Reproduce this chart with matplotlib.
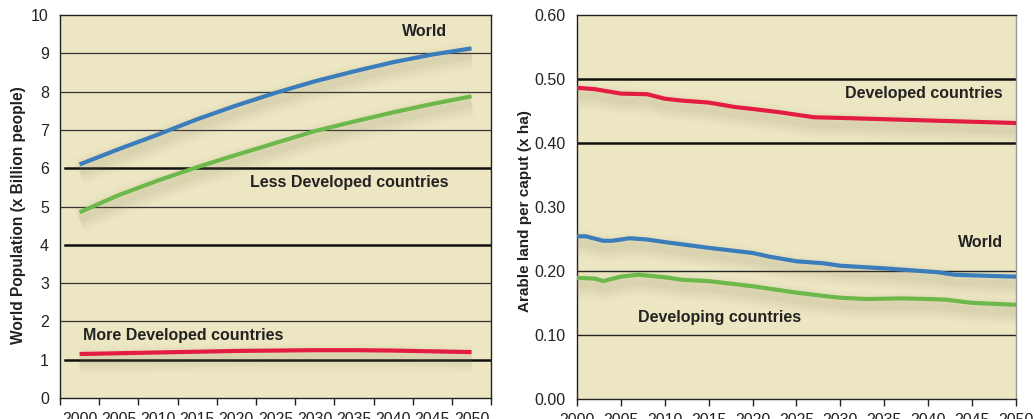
import matplotlib.pyplot as plt
import matplotlib.patheffects as pe

# left panel: population (billions)
pop_years = [2000, 2005, 2010, 2015, 2020, 2025, 2030, 2035, 2040, 2045, 2050]
pop_world = [6.10, 6.50, 6.88, 7.28, 7.64, 7.97, 8.27, 8.53, 8.77, 8.97, 9.13]
pop_less = [4.85, 5.30, 5.68, 6.03, 6.35, 6.66, 6.97, 7.22, 7.46, 7.68, 7.88]
pop_more = [1.15, 1.17, 1.19, 1.21, 1.23, 1.24, 1.25, 1.25, 1.24, 1.22, 1.20]

# right panel: arable land per caput (ha)
dev_years = [2000, 2002, 2005, 2008, 2010, 2012, 2015, 2018, 2020, 2023, 2025, 2027,
             2030, 2035, 2040, 2045, 2050]
dev_land = [0.486, 0.484, 0.477, 0.476, 0.469, 0.466, 0.463, 0.456, 0.453, 0.448, 0.444,
            0.440, 0.439, 0.437, 0.435, 0.433, 0.431]
wld_years = [2000, 2001, 2003, 2004, 2006, 2008, 2010, 2015, 2020, 2022, 2025, 2028,
             2030, 2035, 2040, 2041, 2043, 2045, 2050]
wld_land = [0.254, 0.254, 0.247, 0.247, 0.251, 0.249, 0.245, 0.236, 0.228, 0.222, 0.215,
            0.212, 0.208, 0.204, 0.199, 0.198, 0.194, 0.193, 0.191]
dvg_years = [2000, 2002, 2003, 2005, 2007, 2010, 2012, 2015, 2020, 2025, 2028, 2030,
             2033, 2037, 2040, 2042, 2045, 2050]
dvg_land = [0.189, 0.188, 0.184, 0.191, 0.194, 0.190, 0.186, 0.184, 0.176, 0.166, 0.161,
            0.158, 0.156, 0.157, 0.156, 0.155, 0.150, 0.147]

bg = '#ede6c2'
blue = '#3b7dba'
green = '#6cb84b'
red = '#e31c42'
dark = '#222222'

plt.rcParams['font.family'] = ['Liberation Sans', 'DejaVu Sans']

# soft blurred drop shadow under each curve
shadow = [pe.SimpleLineShadow(offset=(0, -5), shadow_color='#8a8060', alpha=a, linewidth=w)
          for w, a in ((20, 0.025), (16, 0.03), (12, 0.035), (8, 0.04), (5, 0.04))]
shadow.append(pe.Normal())

fig = plt.figure(figsize=(10.34, 4.19), dpi=100)
ax1 = fig.add_axes([0.058, 0.050, 0.417, 0.914])
ax2 = fig.add_axes([0.558, 0.048, 0.4246, 0.9165])

for ax in (ax1, ax2):
    ax.set_facecolor(bg)
    for s in ax.spines.values():
        s.set_color(dark)
        s.set_linewidth(1.0)
    ax.tick_params(axis='both', labelsize=11.5, colors=dark, width=1.0)
    ax.tick_params(axis='y', length=0, pad=8)
    ax.tick_params(axis='x', direction='out', length=5, pad=5)

# left panel
ax1.set_xlim(1997.5, 2052.5)
ax1.set_ylim(0, 10)
ax1.set_yticks(range(0, 11))
ax1.set_xticks([1997.5 + 5 * i for i in range(12)])
ax1.set_xticklabels([])
ax1.set_xticks(pop_years, minor=True)
ax1.set_xticklabels([str(y) for y in pop_years], minor=True)
ax1.tick_params(axis='x', which='minor', length=0, labelsize=11.5, colors=dark, pad=10)
for v in range(1, 10):
    thick = v in (1, 4, 6)
    ax1.axhline(v, xmin=0.012 if thick else 0, color='#111111' if thick else '#333333',
                lw=1.8 if thick else 0.9, zorder=1)

ax1.plot(pop_years, pop_world, color=blue, lw=3, solid_capstyle='butt', path_effects=shadow, zorder=3)
ax1.plot(pop_years, pop_less, color=green, lw=3, solid_capstyle='butt', path_effects=shadow, zorder=3)
ax1.plot(pop_years, pop_more, color=red, lw=3, solid_capstyle='butt', path_effects=shadow, zorder=3)

ax1.text(2044, 9.56, 'World', fontsize=11.5, fontweight='bold', color=dark, ha='center', va='center')
ax1.text(2034.4, 5.64, 'Less Developed countries', fontsize=11.5, fontweight='bold', color=dark,
         ha='center', va='center')
ax1.text(2000.5, 1.64, 'More Developed countries', fontsize=11.5, fontweight='bold', color=dark,
         ha='left', va='center')
ax1.set_ylabel('World Population (x Billion people)', fontsize=11.2, fontweight='bold', color=dark)
ax1.yaxis.set_label_coords(-0.079, 0.478)

# right panel
ax2.set_xlim(2000, 2050)
ax2.set_ylim(0, 0.6)
ax2.set_yticks([0, 0.1, 0.2, 0.3, 0.4, 0.5, 0.6])
ax2.set_yticklabels(['0.00', '0.10', '0.20', '0.30', '0.40', '0.50', '0.60'])
ax2.set_xticks(pop_years)
ax2.set_xticklabels([str(y) for y in pop_years])
ax2.spines['right'].set_color('#999999')
for v, thick in ((0.5, True), (0.4, True), (0.2, False), (0.1, False)):
    ax2.axhline(v, color='#111111' if thick else '#222222', lw=1.8 if thick else 1.0, zorder=1)

ax2.plot(dev_years, dev_land, color=red, lw=3, path_effects=shadow, zorder=3)
ax2.plot(wld_years, wld_land, color=blue, lw=3, path_effects=shadow, zorder=3)
ax2.plot(dvg_years, dvg_land, color=green, lw=3, path_effects=shadow, zorder=3)

ax2.text(2048.5, 0.477, 'Developed countries', fontsize=11.5, fontweight='bold', color=dark,
         ha='right', va='center')
ax2.text(2048.5, 0.245, 'World', fontsize=11.5, fontweight='bold', color=dark, ha='right', va='center')
ax2.text(2006.9, 0.127, 'Developing countries', fontsize=11.5, fontweight='bold', color=dark,
         ha='left', va='center')
ax2.set_ylabel('Arable land per caput (x ha)', fontsize=11, fontweight='bold', color=dark)
ax2.yaxis.set_label_coords(-0.102, 0.49)

fig.savefig('out.png', dpi=100)
